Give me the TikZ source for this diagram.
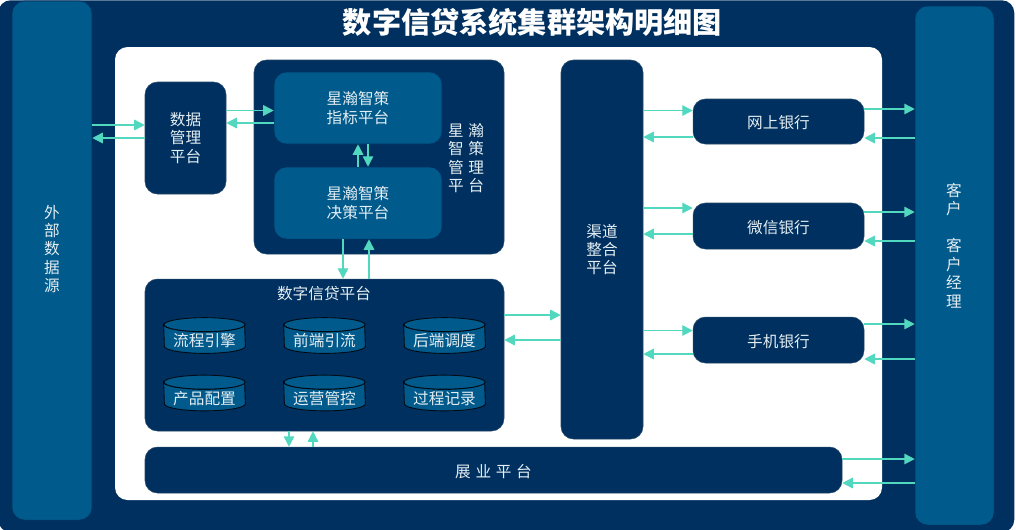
\documentclass[tikz,border=0pt]{standalone}
\usepackage{fontspec}
\usepackage{xcolor}
\usepackage{tikz}
\usetikzlibrary{arrows, arrows.meta}
\setmainfont{Noto Sans CJK SC}

\definecolor{navy}{HTML}{00305F}
\definecolor{steel}{HTML}{005A8C}
\definecolor{mint}{HTML}{52D8BF}
\definecolor{paper}{HTML}{E4EEF3}

\tikzset{
	size/.style 2 args={minimum width=#1*0.02cm, minimum height=#2*0.02cm},
	label text/.style={text=paper, font=\fontsize{8.9}{10.5}\selectfont, align=center, inner sep=0pt,
		execute at begin node=\rule{0pt}{9.2pt}},
	darkbox/.style={rectangle, rounded corners=0.25cm, fill=navy, draw=navy!70!gray, line width=0.3pt, label text},
	bluebox/.style={rectangle, rounded corners=0.25cm, fill=steel, draw=navy, line width=0.3pt, label text},
	drumface/.style={fill=steel, draw=black!80!navy, line width=0.5pt},
	flow/.style={line width=0.85pt, mint, -{Triangle[length=2.1mm, width=2.1mm]}},
}

\begin{document}
\begin{tikzpicture}[x=0.02cm, y=-0.02cm]

\useasboundingbox (0,0) rectangle (1016,529);

\node[darkbox, size={1016}{532}, anchor=north west, draw=none] (frame) at (-2,0) {};
\node[rectangle, rounded corners=0.25cm, fill=white, size={767}{453}] (sheet) at (498.5,273.5) {};

\node[font=\bfseries\fontsize{16.6}{18}\selectfont, text=white, inner sep=0pt] (title) at (532.5,22) {数字信贷系统集群架构明细图};

\node[bluebox, size={80}{519}] (extern) at (52,260.5) {};
\node[label text] (externlabel) at (52,249) {外\\部\\数\\据\\源};
\node[bluebox, size={79}{519}] (client) at (954.5,265.5) {};
\node[label text] (clientlabel) at (954,245.5) {客\\户\\ \mbox{}\\客\\户\\经\\理};

\node[darkbox, size={81}{112}] (datamgr) at (185.5,138) {数据\\管理\\平台};

\node[darkbox, size={250}{194}] (starmgr) at (379,157) {};
\node[bluebox, size={168}{72}] (metric) at (358,108) {星瀚智策\\指标平台};
\node[bluebox, size={168}{72}] (decide) at (358,203) {星瀚智策\\决策平台};
\node[label text] (starlabel) at (466,158) {星\hspace{0.3em}瀚\\智\hspace{0.3em}策\\管\hspace{0.3em}理\\平\hspace{0.3em}台};

\node[darkbox, size={359}{152}] (credit) at (324.5,355) {};
\node[label text] (creditlabel) at (324,292.5) {数字信贷平台};

\foreach \drumname/\drumx/\drumy/\drumtext in {
	flowengine/204.5/335.5/流程引擎, frontend/324.5/335.5/前端引流, backend/444.5/335.5/后端调度,
	product/204.5/393/产品配置, operate/324.5/393/运营管控, record/444.5/393/过程记录} {
	\node[size={81}{35}, inner sep=0pt] (\drumname) at (\drumx,\drumy) {};
	\draw [drumface] ([yshift=-0.14cm]\drumname.north west)
		arc[start angle=180, end angle=360, x radius=0.81cm, y radius=0.14cm]
		-- ([yshift=0.14cm]\drumname.south east)
		arc[start angle=0, end angle=-180, x radius=0.81cm, y radius=0.14cm] -- cycle;
	\draw [drumface] ([yshift=-0.14cm]\drumname.north) ellipse [x radius=0.81cm, y radius=0.14cm];
	\node[label text] (\drumname label) at (\drumx,\drumy+4) {\drumtext};
}

\node[darkbox, size={697}{46}] (field) at (493.5,470) {展\hspace{0.3em}业\hspace{0.3em}平\hspace{0.3em}台};
\node[darkbox, size={82}{379}] (channel) at (602,249.5) {渠道\\整合\\平台};

\node[darkbox, size={171}{45}] (web) at (778.5,121.5) {网上银行};
\node[darkbox, size={171}{46}] (wechat) at (778.5,226) {微信银行};
\node[darkbox, size={171}{46}] (mobile) at (778.5,340) {手机银行};

\draw [flow] (extern.east |- 0,125) -- (datamgr.west |- 0,125);
\draw [flow] (datamgr.west |- 0,138) -- (extern.east |- 0,138);
\draw [flow] (datamgr.east |- 0,110.5) -- (metric.west |- 0,110.5);
\draw [flow] (metric.west |- 0,123) -- (datamgr.east |- 0,123);
\draw [flow] (decide.north -| 358,0) -- (metric.south -| 358,0);
\draw [flow] (metric.south -| 368,0) -- (decide.north -| 368,0);
\draw [flow] (decide.south -| 343,0) -- (credit.north -| 343,0);
\draw [flow] (credit.north -| 369,0) -- (decide.south -| 369,0);
\draw [flow] (credit.east |- 0,315) -- (channel.west |- 0,315);
\draw [flow] (channel.west |- 0,340) -- (credit.east |- 0,340);
\draw [flow] (credit.south -| 289,0) -- (field.north -| 289,0);
\draw [flow] (field.north -| 313,0) -- (credit.south -| 313,0);

\draw [flow] (channel.east |- 0,110.5) -- (web.west |- 0,110.5);
\draw [flow] (web.west |- 0,137) -- (channel.east |- 0,137);
\draw [flow] (channel.east |- 0,208) -- (wechat.west |- 0,208);
\draw [flow] (wechat.west |- 0,234) -- (channel.east |- 0,234);
\draw [flow] (channel.east |- 0,330.5) -- (mobile.west |- 0,330.5);
\draw [flow] (mobile.west |- 0,354) -- (channel.east |- 0,354);

\draw [flow] (web.east |- 0,109) -- (client.west |- 0,109);
\draw [flow] (client.west |- 0,138) -- (web.east |- 0,138);
\draw [flow] (wechat.east |- 0,212) -- (client.west |- 0,212);
\draw [flow] (client.west |- 0,241) -- (wechat.east |- 0,241);
\draw [flow] (mobile.east |- 0,324) -- (client.west |- 0,324);
\draw [flow] (client.west |- 0,359) -- (mobile.east |- 0,359);
\draw [flow] (field.east |- 0,459) -- (client.west |- 0,459);
\draw [flow] (client.west |- 0,483) -- (field.east |- 0,483);

\end{tikzpicture}
\end{document}
